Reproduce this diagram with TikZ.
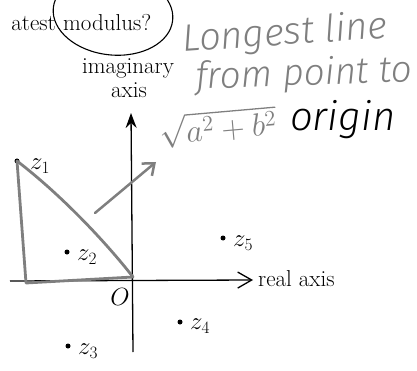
\documentclass[tikz,border=0pt]{standalone}
\usepackage{fontspec}
\usetikzlibrary{arrows.meta}
\newfontfamily\hand{Fira Sans Light}[ItalicFont={Fira Sans Light Italic}]
\definecolor{pencil}{HTML}{7F7F7F}
\begin{document}
\begin{tikzpicture}[x=1pt,y=-1pt,
  txt/.style={font=\fontsize{23}{27}\selectfont, inner sep=0pt},
  lab/.style={txt, anchor=west},
  hw/.style={font=\hand\itshape\fontsize{38}{44}\selectfont, text=pencil, inner sep=0pt},
  dotpt/.style={circle, fill=black, inner sep=0pt, minimum size=5pt},
  pen/.style={draw=pencil, line width=2.8pt, line cap=round, line join=round},
  axisline/.style={draw=black, line width=1.3pt}]
\useasboundingbox (0,0) rectangle (417,371);
% top text
\node[txt, anchor=base east] (latest) at (56,31) {atest};
\node[txt, anchor=base west] (modulus) at (63,31) {modulus?};
\draw[line width=1.1pt, rotate around={-6:(113,14)}] (113,14) ellipse [x radius=60pt, y radius=41pt];
% axis labels
\node[txt, anchor=base] (imag) at (128,74) {imaginary};
\node[txt, anchor=base] (axisw) at (129,98) {axis};
\node[txt, anchor=base west] (real) at (258,286) {real axis};
% axes
\coordinate (xl) at (10,281);
\coordinate (xr) at (253,280);
\coordinate (yb) at (133,352);
\coordinate (yt) at (131,113);
\draw[axisline, -{Straight Barb[length=14pt,width=16pt]}] (xl) -- (xr);
\draw[axisline, -{Stealth[length=15pt,width=11pt,inset=5pt]}] (yb) -- (yt);
\node[txt] (olab) at (120,297) {$O$};
% points
\node[dotpt] (z1) at (17,161) {};
\node[lab] (l1) at (30,166) {$z_1$};
\node[dotpt] (z2) at (67,252) {};
\node[lab] (l2) at (77,257) {$z_2$};
\node[dotpt] (z3) at (68,346) {};
\node[lab] (l3) at (78,351) {$z_3$};
\node[dotpt] (z4) at (180,322) {};
\node[lab] (l4) at (190,326) {$z_4$};
\node[dotpt] (z5) at (223,238) {};
\node[lab] (l5) at (233,243) {$z_5$};
% pencil triangle
\coordinate (c1) at (26,283);
\coordinate (c2) at (133,277);
\draw[pen] (z1.center) -- (c1) -- (c2);
\draw[pen] (z1.center) .. controls (60,194) and (104,240) .. (c2);
% pencil arrow
\coordinate (a0) at (95,213);
\coordinate (a1) at (156,162);
\draw[pen, line width=2.5pt, -{Straight Barb[length=10pt,width=16pt]}] (a0) -- (a1);
% handwriting
\node[hw, anchor=base west, rotate=4] (longest) at (183,52) {Longest line};
\node[hw, anchor=base west, rotate=2, font=\hand\itshape\fontsize{37}{44}\selectfont] (frompoint) at (196,89) {from point to};
\node[hw, anchor=base west, text=black, font=\hand\itshape\fontsize{40}{46}\selectfont] (origin) at (290,131) {origin};
\node[hw, rotate=5, scale=1.55, font=\fontsize{20}{24}\selectfont] (root) at (218,127) {$\sqrt{a^2+b^2}$};
\end{tikzpicture}
\end{document}
